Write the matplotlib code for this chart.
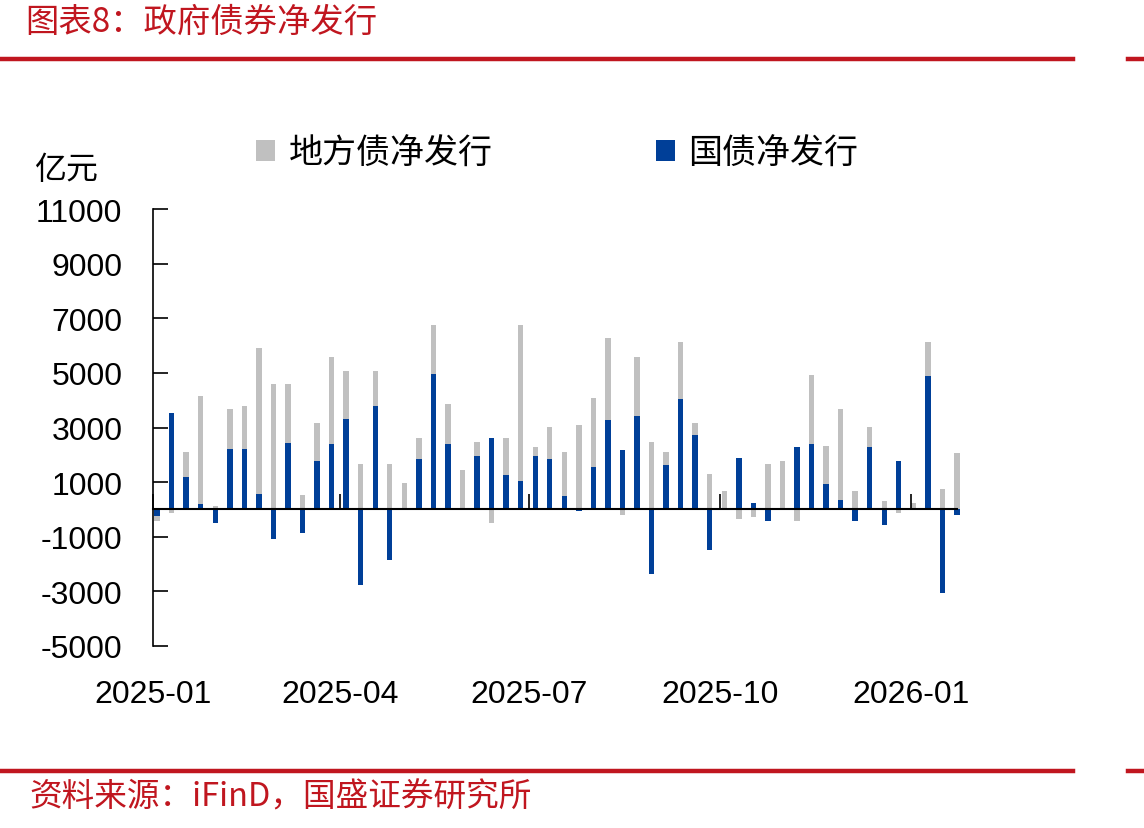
import numpy as np
import pandas as pd
import matplotlib
matplotlib.use("Agg")
import matplotlib.pyplot as plt
import matplotlib.dates as mdates
from matplotlib.lines import Line2D

plt.rcParams['font.family'] = ['Liberation Sans', 'Noto Sans CJK SC', 'DejaVu Sans']
plt.rcParams['axes.unicode_minus'] = False

# weekly net issuance, 100 million yuan
weeks = pd.date_range('2025-01-03', periods=56, freq='7D')
local_net = [-410, -130, 2120, 4160, 120, 3690, 3770, 5900, 4590, 4590,
             520, 3180, 5580, 5070, 1650, 5070, 1650, 960, 2630, 6740,
             3870, 1430, 2480, -480, 2630, 6740, 2270, 3030, 2120, 3100,
             4080, 6270, -190, 5580, 2480, 2120, 6120, 3180, 1280, 670,
             -340, -270, 1650, 1790, -410, 4920, 2340, 3690, 670, 3030,
             300, -120, 230, 6120, 740, 2050]
treasury_net = [-250, 3540, 1180, 190, -480, 2230, 2230, 560, -1100, 2450,
                -880, 1770, 2380, 3300, -2780, 3770, -1870, 0, 1840, 4970,
                2390, 0, 1950, 2630, 1250, 1040, 1950, 1840, 480, -60,
                1540, 3280, 2190, 3430, -2380, 1610, 4050, 2740, -1470, 0,
                1870, 220, -410, 0, 2270, 2380, 920, 340, -410, 2300,
                -560, 1790, 0, 4880, -3070, -210]
series_names = ['地方债净发行', '国债净发行']
y_ticks = np.arange(-5000, 11001, 2000)

red = '#C0161F'
gray = '#C0C0C0'
blue = '#003F98'
cjk = ['Noto Sans CJK SC', 'DejaVu Sans']

fig = plt.figure(figsize=(11.44, 8.29), dpi=100)
ax = fig.add_axes([0.1337, 0.2196, 0.7028, 0.527])

bar_w = 2.6
ax.bar(weeks, local_net, width=bar_w, color=gray, label=series_names[0],
       zorder=1, clip_on=False)
ax.bar(weeks, treasury_net, width=bar_w, color=blue, label=series_names[1],
       zorder=2, clip_on=False)

ax.set_ylim(-5000, 11000)
ax.set_yticks(y_ticks)
ax.set_xlim(pd.Timestamp('2025-01-01'), weeks[-1])

for s in ['top', 'right']:
    ax.spines[s].set_visible(False)
ax.spines['left'].set_linewidth(1.2)
ax.spines['bottom'].set_position(('data', 0))
ax.spines['bottom'].set_linewidth(1.5)

quarter = mdates.MonthLocator(bymonth=[1, 4, 7, 10])
ax.xaxis.set_major_locator(quarter)
ax.tick_params(axis='x', direction='in', length=11, width=1.2, labelbottom=False)
ax.tick_params(axis='y', direction='in', length=11, width=1.2, labelsize=23, pad=22)

# labels sit at the bottom of the plot
sec = ax.secondary_xaxis('bottom')
sec.xaxis.set_major_locator(quarter)
sec.xaxis.set_major_formatter(mdates.DateFormatter('%Y-%m'))
sec.spines['bottom'].set_visible(False)
sec.tick_params(length=0, labelsize=23, pad=24)

fig.text(0.03, 0.795, '亿元', fontsize=23, family=cjk, va='center', ha='left')

leg = fig.legend(loc='center', bbox_to_anchor=(0.487, 0.814), ncol=2,
                 frameon=False, prop={'family': cjk, 'size': 24.5},
                 handlelength=0.55, handleheight=0.55, handletextpad=0.4,
                 columnspacing=4.8)

# header / footer
fig.text(0.022, 0.973, '图表8：政府债券净发行', color=red, fontsize=24,
         family=cjk, va='center', ha='left', style='italic')
fig.text(0.026, 0.038, '资料来源：iFinD，国盛证券研究所', color=red, fontsize=23.5,
         family=cjk, va='center', ha='left', style='italic')
for yy in [1 - 60 / 829, 1 - 772 / 829]:
    fig.add_artist(Line2D([0, 1073 / 1144], [yy, yy], color=red, lw=3.2,
                          transform=fig.transFigure))
    fig.add_artist(Line2D([1128 / 1144, 1], [yy, yy], color=red, lw=3.2,
                          transform=fig.transFigure))

fig.savefig('out.png', dpi=100)
